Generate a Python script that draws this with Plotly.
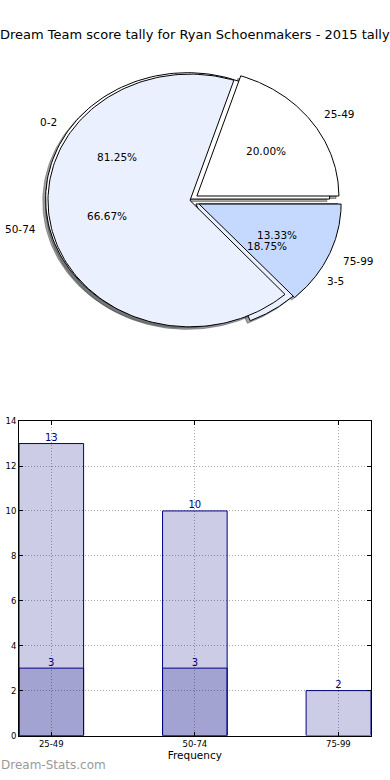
import numpy as np
import plotly.graph_objects as go

# ---------------- data ----------------
chart_title = "Dream Team score tally for Ryan Schoenmakers - 2015 tally"
score_ranges = ["25-49", "50-74", "75-99"]
score_counts = [3, 10, 2]
goal_ranges = ["0-2", "3-5"]
goal_counts = [13, 3]
y_ticks = [0, 2, 4, 6, 8, 10, 12, 14]
x_title = "Frequency"
watermark = "Dream-Stats.com"

# ---------------- styles ----------------
score_explode = [0.06, 0.0, 0.07]
goal_explode = [0.02, 0.05]
score_colors = ["#FFFFFF", "#EAF0FE", "#C5D9FF"]
goal_colors = ["#FFFFFF", "#EAF0FE"]
FONT = "DejaVu Sans"
NAVY = "#000080"

W, H = 390, 780
# pie axes geometry (pixels): centre and radii
PCX, PCY, RX, RY = 190.0, 198.0, 142.0, 128.0
PIE_TOP, PIE_BOT = 0.0, 390.0


def pie_geometry(values, explode):
    total = float(sum(values))
    out = []
    t1 = 0.0
    for v, e in zip(values, explode):
        t2 = t1 + 360.0 * v / total
        tm = np.radians((t1 + t2) / 2.0)
        cx, cy = e * np.cos(tm), e * np.sin(tm)
        out.append(dict(t1=t1, t2=t2, tm=tm, cx=cx, cy=cy, frac=v / total))
        t1 = t2
    return out


def wedge_xy(cx, cy, t1, t2, n=160):
    th = np.radians(np.linspace(t1, t2, n))
    xs = np.concatenate([[cx], cx + np.cos(th), [cx]])
    ys = np.concatenate([[cy], cy + np.sin(th), [cy]])
    return xs, ys


def shadow_color(hexcol):
    h = hexcol.lstrip("#")
    r, g, b = (int(h[i:i + 2], 16) for i in (0, 2, 4))
    return "rgba(%d,%d,%d,0.5)" % (int(0.3 * r), int(0.3 * g), int(0.3 * b))


fig = go.Figure()

goal_geo = pie_geometry(goal_counts, goal_explode)
score_geo = pie_geometry(score_counts, score_explode)

# shadows (below all wedges)
for geo, cols in ((goal_geo, goal_colors), (score_geo, score_colors)):
    for g, c in zip(geo, cols):
        xs, ys = wedge_xy(g["cx"] - 0.02, g["cy"] - 0.02, g["t1"], g["t2"])
        sc = shadow_color(c)
        fig.add_trace(go.Scatter(x=xs, y=ys, mode="lines", fill="toself",
                                 fillcolor=sc, line=dict(color=sc, width=1),
                                 xaxis="x", yaxis="y", hoverinfo="skip",
                                 showlegend=False))

# wedges: goal pie first, score pie on top
for geo, cols in ((goal_geo, goal_colors), (score_geo, score_colors)):
    for g, c in zip(geo, cols):
        xs, ys = wedge_xy(g["cx"], g["cy"], g["t1"], g["t2"])
        fig.add_trace(go.Scatter(x=xs, y=ys, mode="lines", fill="toself",
                                 fillcolor=c, line=dict(color="black", width=1),
                                 xaxis="x", yaxis="y", hoverinfo="skip",
                                 showlegend=False))

annotations = []
for geo, labels in ((goal_geo, goal_ranges), (score_geo, score_ranges)):
    for g, lab in zip(geo, labels):
        lx = g["cx"] + 1.1 * np.cos(g["tm"])
        ly = g["cy"] + 1.1 * np.sin(g["tm"])
        annotations.append(dict(x=lx, y=ly, xref="x", yref="y", text=lab,
                                showarrow=False,
                                xanchor="left" if lx > 0 else "right",
                                yanchor="middle", borderpad=0,
                                font=dict(family=FONT, size=10.5, color="black")))
        px = g["cx"] + 0.6 * np.cos(g["tm"])
        py = g["cy"] + 0.6 * np.sin(g["tm"])
        annotations.append(dict(x=px, y=py, xref="x", yref="y",
                                text="%.2f%%" % (100 * g["frac"]),
                                showarrow=False, xanchor="center",
                                yanchor="middle", borderpad=0,
                                font=dict(family=FONT, size=10.5, color="black")))

# ---------------- bar chart ----------------
xpos_score = list(range(len(score_counts)))
xpos_goal = list(range(len(goal_counts)))
bar_style = dict(color="rgba(0,0,128,0.2)", line=dict(color=NAVY, width=1))
fig.add_trace(go.Bar(x=xpos_score, y=score_counts, width=0.45, marker=bar_style,
                     xaxis="x2", yaxis="y2", hoverinfo="skip", showlegend=False))
fig.add_trace(go.Bar(x=xpos_goal, y=goal_counts, width=0.45, marker=bar_style,
                     xaxis="x2", yaxis="y2", hoverinfo="skip", showlegend=False))
for xs, ys in ((xpos_score, score_counts), (xpos_goal, goal_counts)):
    fig.add_trace(go.Scatter(x=xs, y=ys, mode="text", text=[str(v) for v in ys],
                             textposition="top center",
                             textfont=dict(family=FONT, size=10, color=NAVY),
                             xaxis="x2", yaxis="y2", hoverinfo="skip",
                             showlegend=False))

# title and watermark
annotations.append(dict(x=0.5, y=1 - 30.0 / H, xref="paper", yref="paper",
                        text=chart_title, showarrow=False, xanchor="center",
                        yanchor="middle",
                        font=dict(family=FONT, size=13, color="black")))
annotations.append(dict(x=0.0, y=1 - 770.0 / H, xref="paper", yref="paper",
                        text=watermark, showarrow=False, xanchor="left",
                        yanchor="middle", borderpad=0,
                        font=dict(family=FONT, size=12, color="#9a9a9a")))

bar_left, bar_right, bar_top, bar_bot = 19.0, 370.7, 421.5, 740.0

fig.update_layout(
    width=W, height=H, margin=dict(l=0, r=0, t=0, b=0),
    paper_bgcolor="white", plot_bgcolor="white",
    barmode="overlay", showlegend=False,
    annotations=annotations,
    xaxis=dict(domain=[0, 1], range=[-PCX / RX, (W - PCX) / RX],
               visible=False, fixedrange=True),
    yaxis=dict(domain=[1 - PIE_BOT / H, 1 - PIE_TOP / H],
               range=[-(PIE_BOT - PCY) / RY, (PCY - PIE_TOP) / RY],
               visible=False, fixedrange=True),
    xaxis2=dict(domain=[bar_left / W, bar_right / W], anchor="y2",
                range=[-0.225, len(score_counts) - 1 + 0.225],
                tickmode="array", tickvals=xpos_score, ticktext=score_ranges,
                showline=True, linecolor="black", linewidth=1, mirror="ticks",
                ticks="inside", ticklen=4, tickcolor="black",
                showgrid=True, gridcolor="#a8a8a8", griddash="1px,2px",
                gridwidth=1, zeroline=False,
                tickfont=dict(family=FONT, size=8.5, color="black"),
                title=dict(text=x_title, standoff=3,
                           font=dict(family=FONT, size=10.5, color="black"))),
    yaxis2=dict(domain=[1 - bar_bot / H, 1 - bar_top / H], anchor="x2",
                range=[0, 14], tickmode="array", tickvals=y_ticks,
                showline=True, linecolor="black", linewidth=1, mirror="ticks",
                ticks="inside", ticklen=4, tickcolor="black",
                showgrid=True, gridcolor="#a8a8a8", griddash="1px,2px",
                gridwidth=1, zeroline=False,
                tickfont=dict(family=FONT, size=8.5, color="black")),
)

fig.write_html("out.html", config={"displayModeBar": False},
               post_script="document.body.style.margin='0px';"
                           "document.body.style.overflow='hidden';")
